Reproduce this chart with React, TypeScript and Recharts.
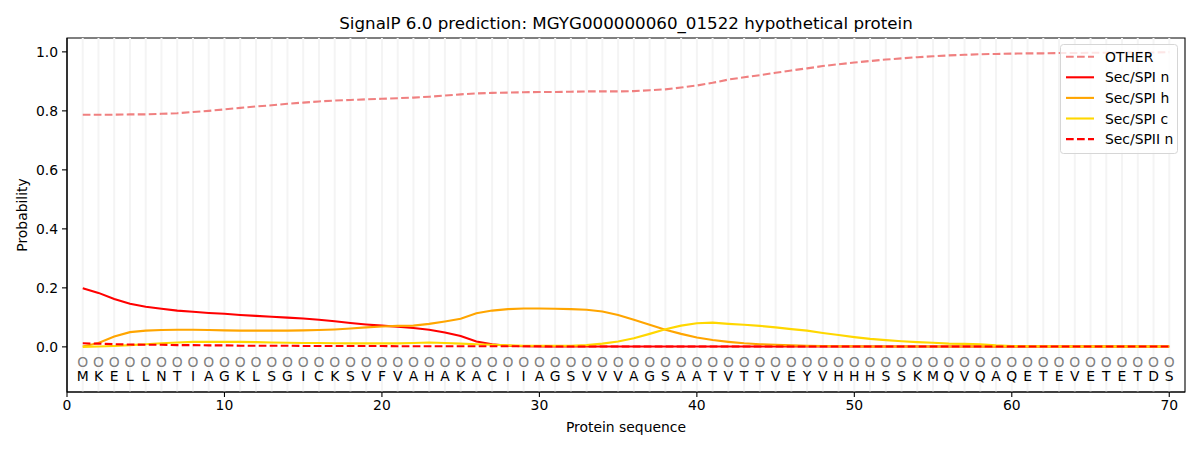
import React from 'react';
import { ComposedChart, Line, Scatter, XAxis, YAxis, ReferenceLine, ReferenceArea, Legend } from 'recharts';

const TITLE = 'SignalP 6.0 prediction: MGYG000000060_01522 hypothetical protein';
const SEQUENCE = 'MKELLNTIAGKLSGICKSVFVAHAKACIIAGSVVVAGSAATVTTVEYVHHHSSKMQVQAQETEVETETDS'.split('');
const PRED_LABELS = SEQUENCE.map(() => 'O');
const X_TICKS = [0, 10, 20, 30, 40, 50, 60, 70];
const Y_TICKS = [0, 0.2, 0.4, 0.6, 0.8, 1.0];

const OTHER = [
  0.787, 0.787, 0.787, 0.788, 0.788, 0.790, 0.792, 0.796, 0.800, 0.805,
  0.810, 0.815, 0.819, 0.824, 0.828, 0.832, 0.835, 0.837, 0.839, 0.841,
  0.843, 0.845, 0.848, 0.852, 0.856, 0.859, 0.861, 0.862, 0.863, 0.864,
  0.864, 0.865, 0.866, 0.866, 0.866, 0.867, 0.870, 0.873, 0.879, 0.886,
  0.895, 0.906, 0.914, 0.921, 0.929, 0.937, 0.944, 0.952, 0.958, 0.964,
  0.969, 0.974, 0.978, 0.982, 0.985, 0.988, 0.990, 0.992, 0.993, 0.994,
  0.995, 0.995, 0.996, 0.996, 0.997, 0.997, 0.998, 0.998, 0.998, 0.999,
];
const SPI_N = [
  0.199, 0.183, 0.162, 0.146, 0.136, 0.129, 0.123, 0.119, 0.115, 0.112,
  0.108, 0.105, 0.102, 0.099, 0.096, 0.092, 0.087, 0.081, 0.076, 0.072,
  0.068, 0.064, 0.058, 0.049, 0.037, 0.018, 0.009, 0.004, 0.002, 0.001,
  0.001, 0.001, 0.001, 0.001, 0.001, 0.001, 0.001, 0.001, 0.001, 0.001,
  0.001, 0.001, 0.001, 0.001, 0.001, 0.001, 0.001, 0.001, 0.001, 0.001,
  0.001, 0.001, 0.001, 0.001, 0.001, 0.001, 0.001, 0.001, 0.001, 0.001,
  0.001, 0.001, 0.001, 0.001, 0.001, 0.001, 0.001, 0.001, 0.001, 0.001,
];
const SPI_H = [
  0.001, 0.013, 0.035, 0.050, 0.055, 0.057, 0.058, 0.058, 0.057, 0.056,
  0.055, 0.055, 0.055, 0.055, 0.056, 0.057, 0.059, 0.062, 0.066, 0.069,
  0.071, 0.072, 0.078, 0.086, 0.095, 0.114, 0.123, 0.128, 0.130, 0.130,
  0.129, 0.128, 0.126, 0.120, 0.108, 0.092, 0.075, 0.058, 0.044, 0.032,
  0.023, 0.017, 0.012, 0.009, 0.007, 0.005, 0.004, 0.003, 0.002, 0.002,
  0.001, 0.001, 0.001, 0.001, 0.001, 0.001, 0.001, 0.001, 0.001, 0.001,
  0.001, 0.001, 0.001, 0.001, 0.001, 0.001, 0.001, 0.001, 0.001, 0.001,
];
const SPI_C = [
  0.000, 0.001, 0.003, 0.006, 0.009, 0.012, 0.015, 0.017, 0.017, 0.017,
  0.017, 0.016, 0.015, 0.014, 0.013, 0.013, 0.012, 0.012, 0.012, 0.012,
  0.012, 0.013, 0.015, 0.013, 0.011, 0.009, 0.007, 0.005, 0.004, 0.004,
  0.004, 0.004, 0.006, 0.011, 0.018, 0.029, 0.044, 0.060, 0.072, 0.080,
  0.082, 0.078, 0.075, 0.071, 0.066, 0.060, 0.055, 0.047, 0.040, 0.033,
  0.027, 0.023, 0.019, 0.016, 0.014, 0.011, 0.010, 0.009, 0.005, 0.003,
  0.002, 0.002, 0.001, 0.001, 0.001, 0.001, 0.001, 0.001, 0.001, 0.001,
];
const SPII_N = [
  0.012, 0.011, 0.009, 0.008, 0.007, 0.007, 0.006, 0.006, 0.005, 0.005,
  0.004, 0.004, 0.004, 0.004, 0.003, 0.003, 0.003, 0.003, 0.003, 0.003,
  0.002, 0.002, 0.002, 0.002, 0.002, 0.002, 0.002, 0.002, 0.002, 0.002,
  0.001, 0.001, 0.001, 0.001, 0.001, 0.001, 0.001, 0.001, 0.001, 0.001,
  0.001, 0.001, 0.001, 0.001, 0.001, 0.001, 0.001, 0.001, 0.001, 0.001,
  0.001, 0.001, 0.001, 0.001, 0.001, 0.001, 0.001, 0.001, 0.001, 0.001,
  0.001, 0.001, 0.001, 0.001, 0.001, 0.001, 0.001, 0.001, 0.001, 0.001,
];

const SERIES = [
  { key: 'other', name: 'OTHER', color: '#f08080', dash: '7.7 3.3' },
  { key: 'spin', name: 'Sec/SPI n', color: '#ff0000', dash: undefined },
  { key: 'spih', name: 'Sec/SPI h', color: '#ffa500', dash: undefined },
  { key: 'spic', name: 'Sec/SPI c', color: '#ffd700', dash: undefined },
  { key: 'spiin', name: 'Sec/SPII n', color: '#ff0000', dash: '7.7 3.3' },
];

const POSITIONS = SEQUENCE.map((_, i) => i + 1);
const data = POSITIONS.map((p, i) => ({
  x: p,
  other: OTHER[i],
  spin: SPI_N[i],
  spih: SPI_H[i],
  spic: SPI_C[i],
  spiin: SPII_N[i],
}));
const letterData = POSITIONS.map((p, i) => ({ x: p, y: -0.1, t: SEQUENCE[i] }));
const labelData = POSITIONS.map((p, i) => ({ x: p, y: -0.05, t: PRED_LABELS[i] }));

const FONT = 'DejaVu Sans, sans-serif';
const Y_MIN = -0.153;
const Y_MAX = 1.047;

const LetterShape = (props: any) => (
  <text x={props.cx} y={props.cy} textAnchor="middle" dominantBaseline="central"
    fontSize={13.9} fontFamily={FONT} fill="#000">{props.payload.t}</text>
);
const LabelShape = (props: any) => (
  <text x={props.cx} y={props.cy} textAnchor="middle" dominantBaseline="central"
    fontSize={13.9} fontFamily={FONT} fill="#808080">{props.payload.t}</text>
);

const LegendBox = () => (
  <svg width={120} height={112} style={{ display: 'block' }}>
    <rect x={0.5} y={0.5} width={117} height={109} rx={3} ry={3}
      fill="#ffffff" fillOpacity={0.8} stroke="#d6d6d6" strokeWidth={1} />
    {SERIES.map((s, i) => {
      const y = 12.7 + i * 20.6;
      return (
        <g key={s.key}>
          <line x1={6} x2={34} y1={y} y2={y} stroke={s.color} strokeWidth={2.1}
            strokeDasharray={s.dash} />
          <text x={45} y={y} dominantBaseline="central" fontSize={13.9}
            fontFamily={FONT} fill="#000">{s.name}</text>
        </g>
      );
    })}
  </svg>
);

export default function App() {
  return (
    <div style={{ position: 'absolute', left: 0, top: 0, width: 1200, height: 450, background: '#fff' }}>
      <div style={{
        position: 'absolute', left: 67, width: 1118, top: 12, textAlign: 'center',
        fontFamily: FONT, fontSize: 16.7, color: '#000', lineHeight: '22px', zIndex: 2,
      }}>{TITLE}</div>
      <ComposedChart width={1200} height={450} data={data}
        margin={{ top: 38, right: 15, bottom: 0, left: 0 }}>
        {POSITIONS.map((p) => (
          <ReferenceLine key={'g' + p} x={p} stroke="#f4f4f4" strokeWidth={2} ifOverflow="visible" />
        ))}
        <XAxis dataKey="x" type="number" domain={[0, 71]} ticks={X_TICKS} allowDataOverflow
          height={58} tickSize={5} tickMargin={3}
          axisLine={{ stroke: '#000', strokeWidth: 1.1 }} tickLine={{ stroke: '#000', strokeWidth: 1.1 }}
          tick={{ fontSize: 13.9, fontFamily: FONT, fill: '#000' }}
          label={(props: any) => {
            const vb = props.viewBox || {};
            return (
              <text x={vb.x + vb.width / 2} y={427} textAnchor="middle" dominantBaseline="central"
                fontSize={13.9} fontFamily={FONT} fill="#000">Protein sequence</text>
            );
          }} />
        <YAxis type="number" domain={[Y_MIN, Y_MAX]} ticks={Y_TICKS} allowDataOverflow
          width={67} tickSize={5} tickMargin={4}
          tickFormatter={(v: number) => v.toFixed(1)}
          axisLine={{ stroke: '#000', strokeWidth: 1.1 }} tickLine={{ stroke: '#000', strokeWidth: 1.1 }}
          tick={{ fontSize: 13.9, fontFamily: FONT, fill: '#000' }}
          label={(props: any) => {
            const vb = props.viewBox || {};
            const cy = vb.y + vb.height / 2;
            return (
              <text x={22} y={cy} textAnchor="middle" dominantBaseline="central"
                transform={`rotate(-90, 22, ${cy})`}
                fontSize={13.9} fontFamily={FONT} fill="#000">Probability</text>
            );
          }} />
        <ReferenceArea x1={0} x2={71} y1={Y_MIN} y2={Y_MAX} fill="none" fillOpacity={0}
          stroke="#000" strokeWidth={1.1} ifOverflow="visible" />
        {SERIES.map((s) => (
          <Line key={s.key} dataKey={s.key} name={s.name} type="linear" stroke={s.color}
            strokeWidth={2.1} strokeDasharray={s.dash} dot={false} activeDot={false}
            isAnimationActive={false} />
        ))}
        <Scatter data={labelData} dataKey="y" shape={LabelShape} isAnimationActive={false} />
        <Scatter data={letterData} dataKey="y" shape={LetterShape} isAnimationActive={false} />
        <Legend layout="vertical" align="center" verticalAlign="middle"
          content={() => <LegendBox />}
          wrapperStyle={{ position: 'absolute', left: 1060, top: 44, width: 120, height: 112 }} />
      </ComposedChart>
    </div>
  );
}
